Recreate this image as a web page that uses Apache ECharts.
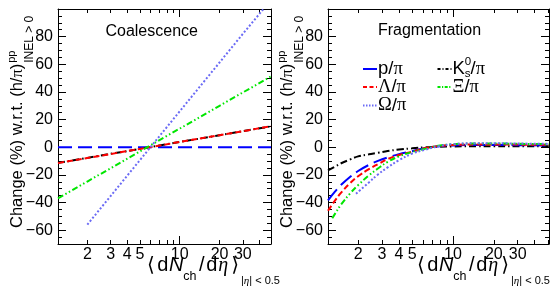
<!DOCTYPE html>
<html><head><meta charset="utf-8">
<script src="https://cdn.jsdelivr.net/npm/echarts@6/dist/echarts.min.js"></script>
<style>html,body{margin:0;padding:0;background:#fff}#c{width:559px;height:287px}</style>
</head><body><div id="c"></div>
<script>
// ---- tick labels ----
const xTickLabels = [2, 3, 4, 5, 10, 20, 30];
const xMinorTicks = [2, 3, 4, 5, 6, 7, 8, 9, 20, 30, 40, 50];
const xMajorTicks = [10];
const yTickLabels = [-60, -40, -20, 0, 20, 40, 60, 80];

// ---- Coalescence panel ----
const coalX = [1.2, 2, 3, 5, 10, 20, 30, 49];
const coalP = [0, 0, 0, 0, 0, 0, 0, 0];
const coalK0s = [-11.3, -7.7, -4.8, -1.2, 3.8, 8.7, 11.6, 15.1];
const coalLambda = [-11.5, -7.8, -4.9, -1.2, 3.8, 8.7, 11.6, 15.2];
const coalXi = [-37, -24.8, -15.2, -3.0, 13.5, 30, 39.6, 51.3];
const coalOmegaX = [2, 3, 5, 10, 20, 30, 43];
const coalOmega = [-56, -35.3, -9.3, 26, 61.3, 82, 100];

// ---- Fragmentation panel ----
const fragX = [1.2, 1.35, 1.5, 1.75, 2, 2.4, 2.8, 3.3, 4, 5, 6.3, 8, 10, 15, 20, 30, 51];
const fragP = [-38.4, -32.1, -27.2, -21.3, -17.2, -12.8, -9.9, -7.4, -5.0, -2.9, -0.5, 0.8, 1.3, 1.6, 1.6, 1.5, 1.3];
const fragK0s = [-16.8, -14.0, -11.6, -8.8, -6.6, -5.1, -4.0, -2.7, -1.7, -0.8, 0, 0.4, 0.6, 0.8, 0.8, 0.8, 0.7];
const fragLambda = [-46, -38.6, -32.8, -25.9, -21, -15.8, -12.2, -8.6, -5.6, -3.2, -0.6, 0.9, 1.6, 2.0, 2.0, 1.9, 1.7];
const fragXiX = [1.29, 1.35, 1.5, 1.75, 2, 2.4, 2.8, 3.3, 4, 5, 6.3, 8, 10, 15, 20, 30, 51];
const fragXi = [-51.4, -48.2, -41.4, -33.3, -27.4, -20.4, -15.4, -10.6, -6.6, -3.4, -1, 1.2, 2.2, 2.7, 2.7, 2.5, 2.2];
const fragOmegaX = [1.93, 2.4, 2.8, 3.3, 4, 5, 6.3, 8, 10, 15, 20, 30, 51];
const fragOmega = [-33.6, -25.5, -19.7, -14.6, -9.4, -4.6, -1.7, 0.9, 2.2, 2.9, 2.9, 2.7, 2.4];

const C_P = '#0000ff', C_K = '#000000', C_L = '#ff0000', C_XI = '#00e600', C_OM = '#6b6bf5';
const D_P = [14, 6], D_L = [6, 3], D_K = [7, 3, 1.5, 3], D_XI = [6, 2.5, 1.5, 2.5, 1.5, 2.5], D_OM = [2, 2];

const SANS = 'Liberation Sans';
const SERIF = 'Liberation Serif';

const grids = [
  {left: 58, top: 9, width: 213, height: 235},
  {left: 328, top: 9, width: 221, height: 235}
];
const xMax = [49, 51];

const xAxes = [], yAxes = [];
const fmtY = v => (v < 0 ? '\u2212' + (-v) : String(v));
grids.forEach((g, gi) => {
  const base = {type: 'log', gridIndex: gi, min: 1.2, max: xMax[gi], logBase: 10,
    splitLine: {show: false}, minorTick: {show: false}};
  xAxes.push(Object.assign({}, base, {position: 'bottom',
    axisLine: {show: true, onZero: false, lineStyle: {color: '#000', width: 1}},
    axisTick: {show: true, inside: true, length: 4, customValues: xMinorTicks, lineStyle: {color: '#000'}},
    axisLabel: {show: true, customValues: xTickLabels, color: '#000', fontSize: 16, fontFamily: SANS, margin: 3,
      formatter: v => String(Math.round(v))}}));
  xAxes.push(Object.assign({}, base, {position: 'bottom',
    axisLine: {show: false, onZero: false},
    axisTick: {show: true, inside: true, length: 8, customValues: xMajorTicks, lineStyle: {color: '#000'}},
    axisLabel: {show: false}}));
  xAxes.push(Object.assign({}, base, {position: 'top',
    axisLine: {show: true, onZero: false, lineStyle: {color: '#000', width: 1}},
    axisTick: {show: true, inside: true, length: 4, customValues: xMinorTicks, lineStyle: {color: '#000'}},
    axisLabel: {show: false}}));
  xAxes.push(Object.assign({}, base, {position: 'top',
    axisLine: {show: false, onZero: false},
    axisTick: {show: true, inside: true, length: 8, customValues: xMajorTicks, lineStyle: {color: '#000'}},
    axisLabel: {show: false}}));

  const yb = {type: 'value', gridIndex: gi, min: -70, max: 100, interval: 5, splitLine: {show: false}};
  yAxes.push(Object.assign({}, yb, {position: 'left',
    axisLine: {show: true, onZero: false, lineStyle: {color: '#000', width: 1}},
    axisTick: {show: true, inside: true, length: 4, lineStyle: {color: '#000'}},
    axisLabel: {show: false}}));
  yAxes.push(Object.assign({}, yb, {position: 'left',
    axisLine: {show: false, onZero: false},
    axisTick: {show: true, inside: true, length: 8, customValues: yTickLabels, lineStyle: {color: '#000'}},
    axisLabel: {show: true, customValues: yTickLabels, color: '#000', fontSize: 16, fontFamily: SANS, margin: 5, formatter: fmtY}}));
  yAxes.push(Object.assign({}, yb, {position: 'right',
    axisLine: {show: true, onZero: false, lineStyle: {color: '#000', width: 1}},
    axisTick: {show: true, inside: true, length: 4, lineStyle: {color: '#000'}},
    axisLabel: {show: false}}));
  yAxes.push(Object.assign({}, yb, {position: 'right',
    axisLine: {show: false, onZero: false},
    axisTick: {show: true, inside: true, length: 8, customValues: yTickLabels, lineStyle: {color: '#000'}},
    axisLabel: {show: false}}));
});

function mk(gi, xs, ys, color, dash, smooth) {
  return {type: 'line', xAxisIndex: gi * 4, yAxisIndex: gi * 4,
    data: xs.map((x, i) => [x, ys[i]]), symbol: 'none', smooth: smooth, clip: true,
    silent: true, lineStyle: {color: color, width: 2, type: dash, cap: 'butt'}};
}

const series = [
  mk(0, coalX, coalP, C_P, D_P, false),
  mk(0, coalX, coalK0s, C_K, D_K, false),
  mk(0, coalX, coalLambda, C_L, D_L, false),
  mk(0, coalX, coalXi, C_XI, D_XI, false),
  mk(0, coalOmegaX, coalOmega, C_OM, D_OM, false),
  mk(1, fragX, fragK0s, C_K, D_K, 0.4),
  mk(1, fragX, fragP, C_P, D_P, 0.4),
  mk(1, fragX, fragLambda, C_L, D_L, 0.4),
  mk(1, fragXiX, fragXi, C_XI, D_XI, 0.4),
  mk(1, fragOmegaX, fragOmega, C_OM, D_OM, 0.4)
];

// ---- text helpers (pieces laid out with measured widths) ----
const mctx = document.createElement('canvas').getContext('2d');
function fontStr(p) { return (p.italic ? 'italic ' : '') + p.size + 'px "' + p.family + '"'; }
function measure(p) { mctx.font = fontStr(p); return mctx.measureText(p.t).width; }
function run(x0, y0, pieces) {
  const out = [];
  let x = x0;
  pieces.forEach(p => {
    out.push({type: 'text', x: x + (p.dx || 0), y: y0 + (p.dy || 0), silent: true,
      style: {text: p.t, font: fontStr(p), fill: '#000',
        align: 'left', verticalAlign: 'middle', textAlign: 'left', textVerticalAlign: 'middle'}});
    if (!p.noAdvance) x += measure(p) + (p.gap || 0);
  });
  return out;
}
function vrun(cx, y0, pieces) {
  const out = [];
  let y = y0;
  pieces.forEach(p => {
    out.push({type: 'text', x: cx + (p.dy || 0), y: y, rotation: Math.PI / 2, silent: true,
      style: {text: p.t, font: fontStr(p), fill: '#000',
        align: 'left', verticalAlign: 'middle', textAlign: 'left', textVerticalAlign: 'middle'}});
    if (!p.noAdvance) y -= measure(p) + (p.gap || 0);
  });
  return out;
}

function yTitle(cx) {
  return vrun(cx, 228, [
    {t: 'Change (%) w.r.t. (h/', size: 16.5, family: SANS},
    {t: '\u03c0', size: 16.5, family: SERIF},
    {t: ')', size: 16.5, family: SANS, gap: 1},
    {t: 'pp', size: 11, family: SANS, dy: -5.5, noAdvance: true},
    {t: 'INEL > 0', size: 12, family: SANS, dy: 12}
  ]);
}
function xTitle(x0) {
  const y0 = 265.5;
  return run(x0, y0, [
    {t: '\u27e8', size: 20, family: 'DejaVu Sans', gap: 2.5},
    {t: 'd', size: 20, family: SANS, gap: 0.5},
    {t: 'N', size: 20, family: SANS, italic: true},
    {t: 'ch', size: 12.5, family: SANS, dy: 11.5, gap: 2.5},
    {t: '/', size: 20, family: SANS, gap: 1.5},
    {t: 'd', size: 20, family: SANS, gap: 1},
    {t: '\u03b7', size: 20, family: SERIF, italic: true, gap: 3},
    {t: '\u27e9', size: 20, family: 'DejaVu Sans', gap: 2},
    {t: '|', size: 11, family: SANS, dy: 15.5},
    {t: '\u03b7', size: 11, family: SERIF, italic: true, dy: 15.5},
    {t: '| < 0.5', size: 11, family: SANS, dy: 15.5}
  ]);
}
function label(x, y, text, size) {
  return {type: 'text', x: x, y: y, silent: true,
    style: {text: text, fontSize: size, fontFamily: SANS, fill: '#000',
      align: 'center', verticalAlign: 'middle', textAlign: 'center', textVerticalAlign: 'middle'}};
}
const LS = 18.5;
function legLine(x, y, color, dash) {
  return {type: 'line', silent: true, shape: {x1: x, y1: y, x2: x + 14, y2: y},
    style: {stroke: color, lineWidth: 2, lineDash: dash}};
}
function legItem(x, y, color, dash, pieces) {
  return [legLine(x, y, color, dash)].concat(run(x + 15, y, pieces));
}
const pi = {t: '\u03c0', size: LS, family: SERIF};
const graphics = [].concat(
  yTitle(17.5), yTitle(287.5),
  xTitle(147), xTitle(417),
  [label(151.7, 31.5, 'Coalescence', 16), label(429.5, 30.5, 'Fragmentation', 16)],
  legItem(363, 69, C_P, null, [{t: 'p/', size: LS, family: SANS}, pi]),
  legItem(437.5, 69, C_K, [3, 2, 1, 2], [
    {t: 'K', size: LS, family: SANS},
    {t: '0', size: 11.5, family: SANS, dy: -7, noAdvance: true},
    {t: 's', size: 11.5, family: SANS, dy: 5},
    {t: '/', size: LS, family: SANS}, pi]),
  legItem(363, 87, C_L, [4, 2.5], [{t: '\u039b', size: LS, family: SERIF}, {t: '/', size: LS, family: SANS}, pi]),
  legItem(437.5, 87, C_XI, [3, 1.5, 1.2, 1.5], [{t: '\u039e', size: LS, family: SERIF}, {t: '/', size: LS, family: SANS}, pi]),
  legItem(363, 105.5, C_OM, [1.5, 1.5], [{t: '\u03a9', size: LS, family: SERIF}, {t: '/', size: LS, family: SANS}, pi])
);

const chart = echarts.init(document.getElementById('c'), null, {renderer: 'canvas'});
chart.setOption({
  animation: false,
  backgroundColor: '#fff',
  grid: grids,
  xAxis: xAxes,
  yAxis: yAxes,
  series: series,
  graphic: {elements: graphics}
});
</script></body></html>
